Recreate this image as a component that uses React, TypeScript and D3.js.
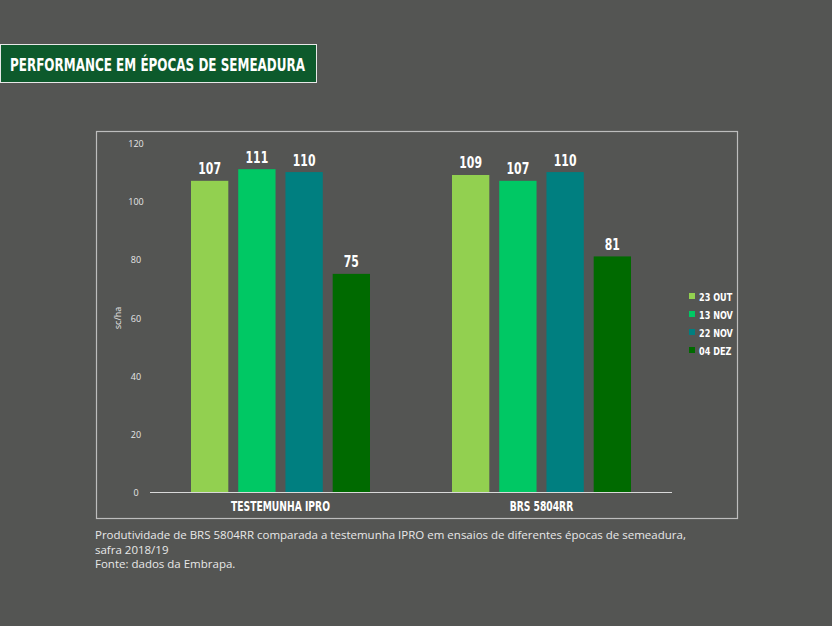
import React from "react";
import * as d3 from "d3";

const categories = ["TESTEMUNHA IPRO", "BRS 5804RR"];
const seriesNames = ["23 OUT", "13 NOV", "22 NOV", "04 DEZ"];
const seriesColors = ["#92d050", "#00c864", "#007f80", "#006a00"];
const values: number[][] = [
  [107, 111, 110, 75],
  [109, 107, 110, 81],
];
const yTicks = [0, 20, 40, 60, 80, 100, 120];
const title = "PERFORMANCE EM ÉPOCAS DE SEMEADURA";
const captionLines = [
  "Produtividade de BRS 5804RR comparada a testemunha IPRO em ensaios de diferentes épocas de semeadura,",
  "safra 2018/19",
  "Fonte: dados da Embrapa.",
];

const W = 832;
const H = 626;
const COND = "'DejaVu Sans', sans-serif";
const BODY = "'Open Sans', 'Noto Sans', sans-serif";

function CText(props: {
  x: number;
  y: number;
  sx: number;
  size: number;
  anchor?: "start" | "middle" | "end";
  children: React.ReactNode;
}) {
  return (
    <text
      transform={`translate(${props.x},${props.y}) scale(${props.sx},1)`}
      fill="#ffffff"
      fontFamily={COND}
      fontWeight="bold"
      fontSize={props.size}
      textAnchor={props.anchor || "start"}
    >
      {props.children}
    </text>
  );
}

export default function App() {
  const x0 = d3.scaleBand<string>().domain(categories).range([150, 672]).paddingInner(0).paddingOuter(0);
  const x1 = d3
    .scaleBand<string>()
    .domain(seriesNames)
    .range([41, x0.bandwidth() - 41])
    .paddingInner(0.21)
    .paddingOuter(0);
  const y = d3.scaleLinear().domain([0, 120]).range([492, 143]);

  return (
    <svg width={W} height={H} style={{ position: "absolute", left: 0, top: 0 }}>
      <rect x={0} y={0} width={W} height={H} fill="#545553" />
      <rect x={0.5} y={44.5} width={316} height={38} fill="#0d5a2c" stroke="#e8e8e8" strokeWidth={1} />
      <text
        x={10}
        y={71}
        fill="#ffffff"
        fontFamily={COND}
        fontWeight="bold"
        fontSize={18}
        textLength={295}
        lengthAdjust="spacingAndGlyphs"
      >
        {title}
      </text>
      <rect x={96.5} y={131.5} width={641} height={387} fill="none" stroke="#bdbdbd" strokeWidth={1.2} />
      {yTicks.map((t) => (
        <text key={t} x={136} y={y(t) + 4} fill="#e6e6e6" fontFamily={BODY} fontSize={9} textAnchor="middle">
          {t}
        </text>
      ))}
      <text
        transform={`translate(121,${318}) rotate(-90)`}
        fill="#e6e6e6"
        fontFamily={BODY}
        fontSize={9}
        textAnchor="middle"
      >
        sc/ha
      </text>
      {categories.map((c, ci) => (
        <g key={c} transform={`translate(${x0(c)},0)`}>
          {seriesNames.map((s, si) => {
            const v = values[ci][si];
            const bx = x1(s)!;
            return (
              <g key={s}>
                <rect x={bx} y={y(v)} width={x1.bandwidth()} height={y(0) - y(v)} fill={seriesColors[si]} />
                <CText x={bx + x1.bandwidth() / 2} y={y(v) - 6.5} sx={0.66} size={16.5} anchor="middle">
                  {v}
                </CText>
              </g>
            );
          })}
          <CText x={x0.bandwidth() / 2} y={511} sx={0.68} size={13.5} anchor="middle">
            {c}
          </CText>
        </g>
      ))}
      <line x1={150} x2={672} y1={492.5} y2={492.5} stroke="#d9d9d9" strokeWidth={1.2} />
      {seriesNames.map((s, i) => (
        <g key={s} transform={`translate(689,${293 + i * 18})`}>
          <rect x={0} y={0} width={6} height={6} fill={seriesColors[i]} />
          <CText x={10} y={7.5} sx={0.74} size={11}>
            {s}
          </CText>
        </g>
      ))}
      {captionLines.map((l, i) => (
        <text key={i} x={95} y={539 + i * 14.5} fill="#e8e8e8" fontFamily={BODY} fontSize={11.5}>
          {l}
        </text>
      ))}
    </svg>
  );
}
